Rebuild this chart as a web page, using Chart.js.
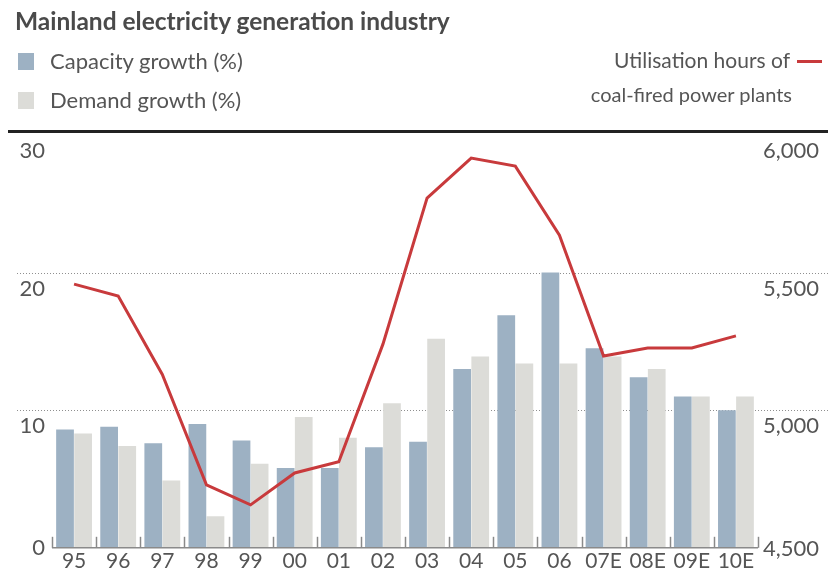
<!DOCTYPE html>
<html>
<head>
<meta charset="utf-8">
<script src="https://cdn.jsdelivr.net/npm/chart.js@4"></script>
<style>
  html,body{margin:0;padding:0;background:#fff;}
  #wrap{position:relative;width:830px;height:575px;overflow:hidden;font-family:Lato, "Open Sans", sans-serif;}
  canvas{position:absolute;left:0;top:0;}
  .t{position:absolute;white-space:nowrap;color:#555;}
  #title{left:15px;top:6px;font-size:24.5px;font-weight:bold;color:#4a4a4a;}
  .sw{position:absolute;width:16px;height:17px;}
  #rule{position:absolute;left:8px;top:130px;width:820px;height:3px;background:#222;}
</style>
</head>
<body>
<div id="wrap">
  <canvas id="c" width="830" height="575"></canvas>
  <div id="title" class="t">Mainland electricity generation industry</div>
  <div class="sw" style="left:18px;top:53px;background:#9db1c3;"></div>
  <div class="t" style="left:50px;top:47px;font-size:22px;">Capacity growth (%)</div>
  <div class="sw" style="left:18px;top:92px;background:#dcdcd8;"></div>
  <div class="t" style="left:50px;top:86px;font-size:22px;">Demand growth (%)</div>
  <div class="t" style="right:40px;top:47px;font-size:21px;text-align:right;">Utilisation hours of</div>
  <div style="position:absolute;left:797px;top:60px;width:25px;height:3px;background:#c83a3c;"></div>
  <div class="t" style="right:38px;top:82px;font-size:20px;text-align:right;">coal-fired power plants</div>
  <div id="rule"></div>
</div>
<script>
// ---- data ----
const categories = ['95','96','97','98','99','00','01','02','03','04','05','06','07E','08E','09E','10E'];
const capacityGrowth = [8.6, 8.8, 7.6, 9.0, 7.8, 5.8, 5.8, 7.3, 7.7, 13.0, 16.9, 20.0, 14.5, 12.4, 11.0, 10.0];
const demandGrowth   = [8.3, 7.4, 4.9, 2.3, 6.1, 9.5, 8.0, 10.5, 15.2, 13.9, 13.4, 13.4, 13.9, 13.0, 11.0, 11.0];
const utilisationHours = [5458, 5415, 5130, 4729, 4656, 4772, 4813, 5240, 5771, 5916, 5887, 5636, 5197, 5226, 5226, 5270];
const leftTicks = [0, 10, 20, 30];
const rightTicks = [4500, 5000, 5500, 6000];
const leftTickLabels = ['0', '10', '20', '30'];
const rightTickLabels = ['4,500', '5,000', '5,500', '6,000'];

const decor = {
  id: 'decor',
  beforeDatasetsDraw(chart) {
    const ctx = chart.ctx;
    const y = chart.scales.y;
    ctx.save();
    ctx.strokeStyle = '#8f8f8f';
    ctx.lineWidth = 1;
    ctx.setLineDash([1, 2]);
    leftTicks.forEach(v => {
      if (v === 0 || v === 30) return;
      const py = Math.round(y.getPixelForValue(v)) + 0.5;
      ctx.beginPath(); ctx.moveTo(17, py); ctx.lineTo(828, py); ctx.stroke();
    });
    ctx.setLineDash([]);
    ctx.restore();
  },
  afterDatasetsDraw(chart) {
    const ctx = chart.ctx, ca = chart.chartArea;
    const y = chart.scales.y, y2 = chart.scales.y2, x = chart.scales.x;
    ctx.save();
    const by = y.getPixelForValue(0);
    ctx.strokeStyle = '#8a8a8a';
    ctx.lineWidth = 1.5;
    ctx.beginPath(); ctx.moveTo(ca.left, by); ctx.lineTo(ca.right, by); ctx.stroke();
    const half = (x.getPixelForValue(1) - x.getPixelForValue(0)) / 2;
    for (let i = 0; i <= categories.length; i++) {
      const px = Math.round(x.getPixelForValue(i) - half) + 0.5;
      ctx.beginPath(); ctx.moveTo(px, by); ctx.lineTo(px, by - 11); ctx.stroke();
    }
    ctx.fillStyle = '#555';
    ctx.font = '22px Lato, "Open Sans", sans-serif';
    ctx.textBaseline = 'middle';
    leftTicks.forEach((v, i) => {
      const py = y.getPixelForValue(v) + (v === 0 ? 0 : 16);
      ctx.textAlign = 'right';
      ctx.fillText(leftTickLabels[i], 45, py);
    });
    rightTicks.forEach((v, i) => {
      const py = y2.getPixelForValue(v) + (i === 0 ? 1 : 16);
      ctx.textAlign = 'left';
      ctx.fillText(rightTickLabels[i], 763, py);
    });
    ctx.restore();
  }
};

new Chart(document.getElementById('c'), {
  data: {
    labels: categories,
    datasets: [
      { type: 'line', label: 'Utilisation hours of coal-fired power plants', data: utilisationHours,
        yAxisID: 'y2', borderColor: '#c83a3c', borderWidth: 3, pointRadius: 0, tension: 0, order: 0 },
      { type: 'bar', label: 'Capacity growth (%)', data: capacityGrowth, yAxisID: 'y',
        backgroundColor: '#9db1c3', categoryPercentage: 0.82, barPercentage: 0.98, order: 1 },
      { type: 'bar', label: 'Demand growth (%)', data: demandGrowth, yAxisID: 'y',
        backgroundColor: '#dcdcd8', categoryPercentage: 0.82, barPercentage: 0.98, order: 1 }
    ]
  },
  options: {
    responsive: false,
    animation: false,
    layout: { padding: { left: 52, right: 72, top: 135, bottom: 0 } },
    plugins: { legend: { display: false }, tooltip: { enabled: false } },
    scales: {
      x: {
        offset: true,
        grid: { display: false, drawTicks: false },
        border: { display: false },
        ticks: { autoSkip: false, maxRotation: 0, padding: 1, color: '#555',
                 font: { family: 'Lato, "Open Sans", sans-serif', size: 21 } }
      },
      y: { display: false, min: 0, max: 30, position: 'left' },
      y2: { display: false, min: 4500, max: 6000, position: 'right' }
    }
  },
  plugins: [decor]
});
</script>
</body>
</html>
